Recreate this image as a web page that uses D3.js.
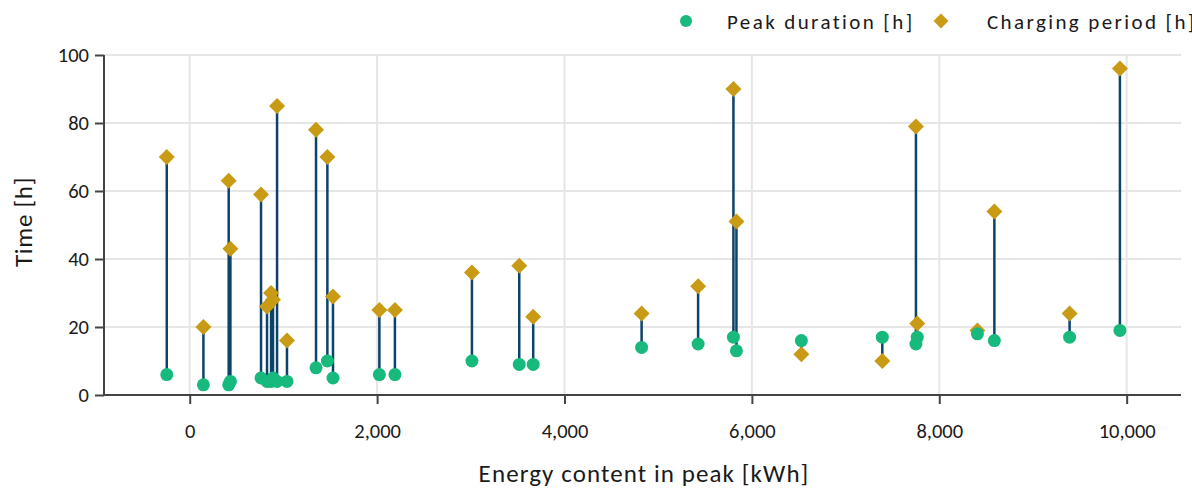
<!DOCTYPE html>
<html>
<head>
<meta charset="utf-8">
<script src="https://cdn.jsdelivr.net/npm/d3@7"></script>
<style>
  html, body { margin: 0; padding: 0; background: #fff; }
  svg { display: block; }
  text { font-family: Carlito, Lato, "Open Sans", sans-serif; fill: #1a1a1a; }
</style>
</head>
<body>
<svg id="chart" width="1192" height="490"></svg>
<script>
// Energy content of each peak [kWh]
const energy = [-245, 146, 416, 434, 761, 825, 868, 889, 932, 1038, 1348, 1469, 1529,
  2024, 2190, 3012, 3517, 3666, 4823, 5426, 5803, 5835, 6528, 7392, 7751, 7765,
  8407, 8588, 9391, 9928];
// Peak duration [h]
const peakDuration = [6, 3, 3, 4, 5, 4, 4, 5, 4, 4, 8, 10, 5,
  6, 6, 10, 9, 9, 14, 15, 17, 13, 16, 17, 15, 17,
  18, 16, 17, 19];
// Charging period [h]
const chargingPeriod = [70, 20, 63, 43, 59, 26, 30, 28, 85, 16, 78, 70, 29,
  25, 25, 36, 38, 23, 24, 32, 90, 51, 12, 10, 79, 21,
  19, 54, 24, 96];

const xTicks = [0, 2000, 4000, 6000, 8000, 10000];
const yTicks = [0, 20, 40, 60, 80, 100];
const seriesNames = ["Peak duration [h]", "Charging period [h]"];

const colors = { peak: "#17b97d", charge: "#c99a14", stem: "#0b436b", grid: "#e6e6e6", axis: "#444" };

const points = energy.map((e, i) => ({ e, p: peakDuration[i], c: chargingPeriod[i] }));

const svg = d3.select("#chart");
const plot = { left: 104, right: 1181, top: 55, bottom: 395 };

const x = d3.scaleLinear().domain([-915, 10580]).range([plot.left, plot.right]);
const y = d3.scaleLinear().domain([0, 100]).range([plot.bottom, plot.top]);

// grid
svg.append("g").selectAll("line").data(xTicks).join("line")
  .attr("x1", d => x(d)).attr("x2", d => x(d))
  .attr("y1", plot.top).attr("y2", plot.bottom)
  .attr("stroke", colors.grid).attr("stroke-width", 2);
svg.append("g").selectAll("line").data(yTicks.filter(d => d > 0)).join("line")
  .attr("x1", plot.left).attr("x2", plot.right)
  .attr("y1", d => y(d)).attr("y2", d => y(d))
  .attr("stroke", colors.grid).attr("stroke-width", 2);

// axes
const xAxis = svg.append("g").attr("transform", `translate(0,${plot.bottom})`)
  .call(d3.axisBottom(x).tickValues(xTicks).tickFormat(d3.format(",")).tickSize(9).tickPadding(19));
const yAxis = svg.append("g").attr("transform", `translate(${plot.left},0)`)
  .call(d3.axisLeft(y).tickValues(yTicks).tickSize(9).tickPadding(6));
[xAxis, yAxis].forEach(g => {
  g.select(".domain").attr("stroke", colors.axis).attr("stroke-width", 2);
  g.selectAll(".tick line").attr("stroke", colors.axis).attr("stroke-width", 2);
  g.selectAll(".tick text").attr("font-size", 20.5).attr("fill", "#1a1a1a")
    .style("font-family", "Carlito, Lato, 'Open Sans', sans-serif");
});
xAxis.select(".domain").attr("d", `M${plot.left},0H${plot.right}`);
yAxis.select(".domain").attr("d", `M0,${plot.top}V${plot.bottom}`);

// axis titles
svg.append("text").attr("x", 644).attr("y", 482).attr("text-anchor", "middle")
  .attr("font-size", 25).attr("letter-spacing", 1.1).text("Energy content in peak [kWh]");
svg.append("text").attr("transform", "translate(32,222) rotate(-90)")
  .attr("text-anchor", "middle").attr("font-size", 25).attr("letter-spacing", 0.7).text("Time [h]");

// stems
svg.append("g").selectAll("line").data(points).join("line")
  .attr("x1", d => x(d.e)).attr("x2", d => x(d.e))
  .attr("y1", d => y(d.p)).attr("y2", d => y(d.c))
  .attr("stroke", colors.stem).attr("stroke-width", 2.5);

const diamond = d3.symbol().type(d3.symbolSquare).size(128);

// charging period markers
svg.append("g").selectAll("path").data(points).join("path")
  .attr("d", diamond)
  .attr("transform", d => `translate(${x(d.e)},${y(d.c)}) rotate(45)`)
  .attr("fill", colors.charge);

// peak duration markers
svg.append("g").selectAll("circle").data(points).join("circle")
  .attr("cx", d => x(d.e)).attr("cy", d => y(d.p)).attr("r", 6.5)
  .attr("fill", colors.peak);

// legend
const legend = svg.append("g");
legend.append("circle").attr("cx", 686).attr("cy", 21).attr("r", 6).attr("fill", colors.peak);
legend.append("text").attr("x", 727).attr("y", 29).attr("font-size", 21)
  .attr("letter-spacing", 2.4).text(seriesNames[0]);
legend.append("path").attr("d", d3.symbol().type(d3.symbolSquare).size(110))
  .attr("transform", "translate(941,21) rotate(45)").attr("fill", colors.charge);
legend.append("text").attr("x", 987).attr("y", 29).attr("font-size", 21)
  .attr("letter-spacing", 2.4).text(seriesNames[1]);
</script>
</body>
</html>
